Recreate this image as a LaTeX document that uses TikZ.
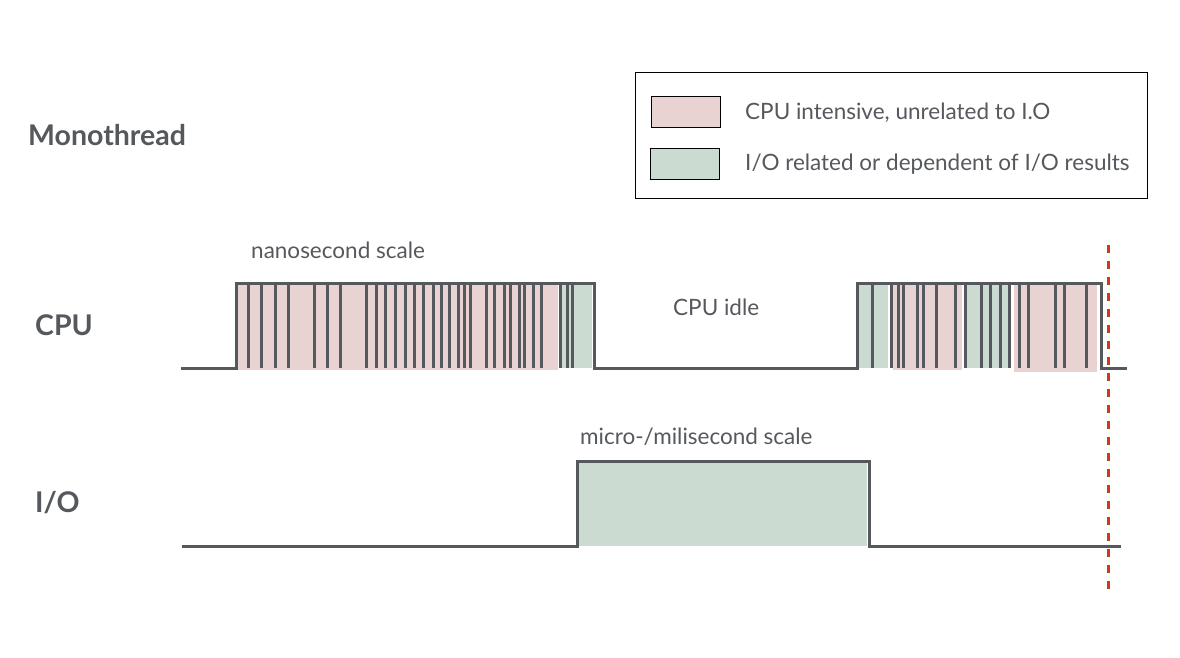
\documentclass[tikz,border=0pt]{standalone}
\usepackage{fontspec}
\setmainfont{Lato}
\usetikzlibrary{positioning}
\definecolor{wavegray}{HTML}{55585D}
\definecolor{cpupink}{HTML}{E8D3D2}
\definecolor{iogreen}{HTML}{CCDBD1}
\definecolor{cutred}{HTML}{D43A12}

\begin{document}
\begin{tikzpicture}[x=1pt,y=-1pt,
  wave/.style={draw=wavegray,line width=3pt},
  tickbar/.style={draw=wavegray,line width=3pt},
  lbl/.style={text=wavegray,font=\fontsize{22.5}{26}\selectfont,inner sep=0pt,anchor=west},
  rowlbl/.style={text=wavegray,font=\fontsize{28.5}{32}\selectfont\bfseries,inner sep=0pt,anchor=west},
  swatch/.style={draw=black,line width=1pt,minimum width=69pt,minimum height=31pt,inner sep=0pt}]
  \useasboundingbox (0,0) rectangle (1180,658);
  % row titles
  \node[rowlbl] (mono) at (28,135) {Monothread};
  \node[rowlbl] (cpu) at (35,325) {CPU};
  \node[rowlbl] (io) at (35,503) {I/O};
  % legend
  \node[draw=black,line width=1pt,minimum width=512pt,minimum height=125pt] (legend) at (891,135.5) {};
  \node[swatch,fill=cpupink] (swpink) at (685.5,112.5) {};
  \node[swatch,fill=iogreen] (swgreen) at (684.5,164) {};
  \node[lbl] (txpink) at (745,113) {CPU intensive, unrelated to I.O};
  \node[lbl] (txgreen) at (745,164) {I/O related or dependent of I/O results};
  % CPU bursts
  \fill[cpupink] (238,285) rectangle (558,370);
  \fill[iogreen] (562,285) rectangle (592,368);
  \fill[iogreen] (858,285) rectangle (888,368);
  \fill[cpupink] (893,285) rectangle (962,370);
  \fill[iogreen] (965,285) rectangle (1008,368);
  \fill[cpupink] (1014,285) rectangle (1097,372);
  \foreach \x in {248,261,275,288,314,327,340,366,376,385,395,405,414,423,433,441,449,458,464,470,486,494,504,510,519,524,533,541,560,567,572,
                  872,891,898,903,917,923,936,955,965,981,990,1000,1009,1019,1028,1055,1064,1086}
    \draw[tickbar] (\x,283) -- (\x,368);
  \draw[wave] (181,368) -- (236,368) -- (236,283) -- (594,283) -- (594,368) -- (857,368)
    -- (857,283) -- (1101,283) -- (1101,368) -- (1127,368);
  % I/O wait
  \fill[iogreen] (579,463) rectangle (867,546);
  \draw[wave] (182,546) -- (577,546) -- (577,461) -- (869,461) -- (869,546) -- (1121,546);
  % annotations
  \node[lbl] (nano) at (251,250) {nanosecond scale};
  \node[lbl] (idle) at (673,307) {CPU idle};
  \node[lbl] (milli) at (580,437) {micro-/milisecond scale};
  \draw[cutred,line width=3pt,dash pattern=on 8pt off 8pt] (1108,245) -- (1108,595);
\end{tikzpicture}
\end{document}
